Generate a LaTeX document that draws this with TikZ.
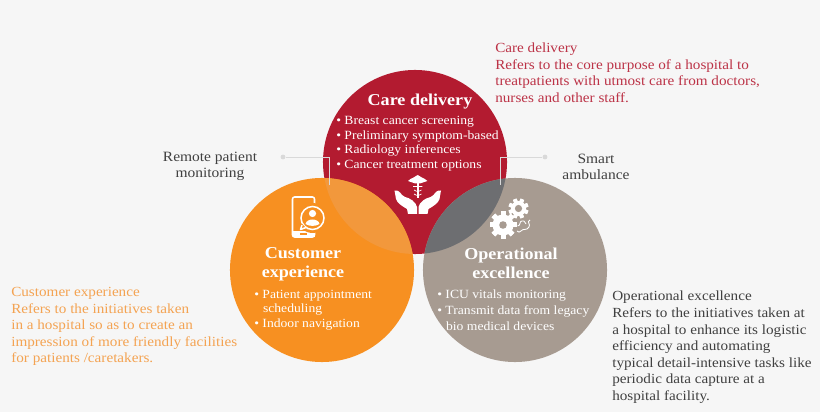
\documentclass[tikz,border=0pt]{standalone}
\usepackage{fontspec}
\setmainfont[FakeStretch=1.09]{Liberation Serif}
\definecolor{pagebg}{HTML}{F6F6F6}
\definecolor{carered}{HTML}{B31B30}
\definecolor{custorange}{HTML}{F79021}
\definecolor{opergray}{HTML}{A79B91}
\definecolor{mixorange}{HTML}{F2983C}
\definecolor{mixgray}{HTML}{6D6E71}
\definecolor{leadgray}{HTML}{D9D9D9}
\definecolor{darktext}{HTML}{404040}
\definecolor{redtext}{HTML}{BC3347}
\definecolor{orangetext}{HTML}{F4A352}
\tikzset{
  venn/.style={circle, minimum size=4.6cm, inner sep=0pt},
  titletext/.style={text=white, align=center, font=\fontsize{11.8}{13.6}\selectfont\bfseries},
  listtext/.style={text=white, align=left, anchor=north west, inner sep=0pt, font=\fontsize{8.9}{10.35}\selectfont},
  bodytext/.style={align=left, anchor=north west, inner sep=0pt, font=\fontsize{9.9}{11.8}\selectfont},
  sidetext/.style={text=darktext, align=center, font=\fontsize{10.1}{11.7}\selectfont},
  leader/.style={leadgray, line width=0.5pt},
  leaddot/.style={circle, fill=leadgray, inner sep=0pt, minimum size=1.2mm},
}
\begin{document}
\begin{tikzpicture}[x=0.025cm,y=-0.025cm]
\useasboundingbox (0,0) rectangle (820,412);
\fill[pagebg] (0,0) rectangle (820,412);
\node[venn, fill=carered] (care) at (415,162) {};
\node[venn, fill=custorange] (cust) at (322,270) {};
\node[venn, fill=opergray] (oper) at (515,270) {};
% overlaps
\begin{scope}
\clip (415,162) circle (92);
\fill[mixorange] (322,270) circle (92);
\fill[mixgray] (515,270) circle (92);
\end{scope}
% leaders
\node[leaddot] (dotl) at (283,157) {};
\node[leaddot] (dotr) at (545,157) {};
\coordinate (endl) at (329,185);
\coordinate (endr) at (500,185);
\draw[leader] (dotl) -| (endl);
\draw[leader] (dotr) -| (endr);
% titles
\node[titletext] (caretitle) at (420,102) {Care delivery};
\node[titletext] (custtitle) at (303,264) {Customer\\experience};
\node[titletext] (opertitle) at (511,263.5) {Operational\\excellence};
% lists
\node[listtext] (carelist) at (336,116) {• Breast cancer screening\\• Preliminary symptom-based\\• Radiology inferences\\• Cancer treatment options};
\node[listtext] (custlist) at (254,289.5) {• Patient appointment\\\hspace{0.7em}scheduling\\• Indoor navigation};
\node[listtext, font=\fontsize{8.9}{11.3}\selectfont] (operlist) at (437,290) {• ICU vitals monitoring\\• Transmit data from legacy\\\hspace{0.7em}bio medical devices};
% side labels
\node[sidetext] (remote) at (210,166.5) {Remote patient\\monitoring};
\node[sidetext] (smart) at (596,167) {Smart\\ambulance};
\node[bodytext, text=redtext] (caretext) at (495,42.5) {Care delivery\\Refers to the core purpose of a hospital to\\treatpatients with utmost care from doctors,\\nurses and other staff.};
\node[bodytext, text=orangetext] (custtext) at (11,287) {Customer experience\\Refers to the initiatives taken\\in a hospital so as to create an\\impression of more friendly facilities\\for patients /caretakers.};
\node[bodytext, text=darktext] (opertext) at (612,291) {Operational excellence\\Refers to the initiatives taken at\\a hospital to enhance its logistic\\efficiency and automating\\typical detail-intensive tasks like\\periodic data capture at a\\hospital facility.};
% hands icon
\fill[white] (394.5,190.5) .. controls (398,190) and (400,192) .. (402,195) -- (405,197) .. controls (410,198) and (416,202) .. (417,207) -- (417,214) -- (408,214) -- (407,209) .. controls (402,206) and (397,203) .. (396,199) -- cycle;
\fill[white] (441,190.5) .. controls (437.5,190) and (435.5,192) .. (433.5,195) -- (430.5,197) .. controls (425.5,198) and (419.5,202) .. (418.5,207) -- (418.5,214) -- (427.5,214) -- (428.5,209) .. controls (433.5,206) and (438.5,203) .. (439.5,199) -- cycle;
\fill[white] (408,181) .. controls (412,177) and (415,178) .. (417.7,175) .. controls (420.4,178) and (423.4,177) .. (427.4,181) -- (420,183.5) -- (415.4,183.5) -- cycle;
\fill[white] (416.6,183) rectangle (418.8,198);
\draw[white, line width=0.5pt] (413,186.5) -- (422.4,186.5) (414,190) .. controls (417.7,192) and (417.7,192) .. (421.4,190) (414,194) .. controls (417.7,196) and (417.7,196) .. (421.4,194);
% phone icon
\draw[white, line width=1.1pt, rounded corners=1.5pt] (292.5,197) rectangle (314.5,237);
\fill[white] (292.5,231.5) rectangle (314.5,237);
\fill[custorange] (299.5,233.5) rectangle (306.5,235.3);
\fill[custorange] (312.5,218) circle (15);
\draw[white, line width=1.1pt] (312.5,218) circle (11.5);
\fill[custorange] (302,224) -- (300,230) -- (306,228) -- cycle;
\draw[white, line width=1.1pt, line join=round] (302,225) -- (300.5,229.5) -- (306,227.5);
\fill[white] (312.5,213.5) circle (3.6);
\fill[white] (305.5,224) .. controls (306.5,218) and (318.5,218) .. (319.5,224) .. controls (316,226.5) and (309,226.5) .. (305.5,224) -- cycle;
% gears icon
\foreach \a in {0,45,...,315} {
  \fill[white, rotate around={\a:(503,225)}] (500.5,211.5) rectangle (505.5,238.5);
}
\fill[white] (503,225) circle (10.5);
\fill[opergray] (503,225) circle (3.8);
\foreach \a in {22,67,...,337} {
  \fill[white, rotate around={\a:(518.5,208.5)}] (516.6,198.5) rectangle (520.4,218.5);
}
\fill[white] (518.5,208.5) circle (7.5);
\fill[opergray] (518.5,208.5) circle (3.6);
\draw[white, line width=0.6pt] (517.5,226) .. controls (521,226) and (519,221) .. (522,221) .. controls (525,220) and (525,224) .. (526,224);
\draw[white, line width=0.6pt] (530,220) .. controls (526,222) and (531,224) .. (529,227) .. controls (527,231) and (523,228) .. (521,231) .. controls (520,233) and (518,232) .. (517,231);
\end{tikzpicture}
\end{document}
